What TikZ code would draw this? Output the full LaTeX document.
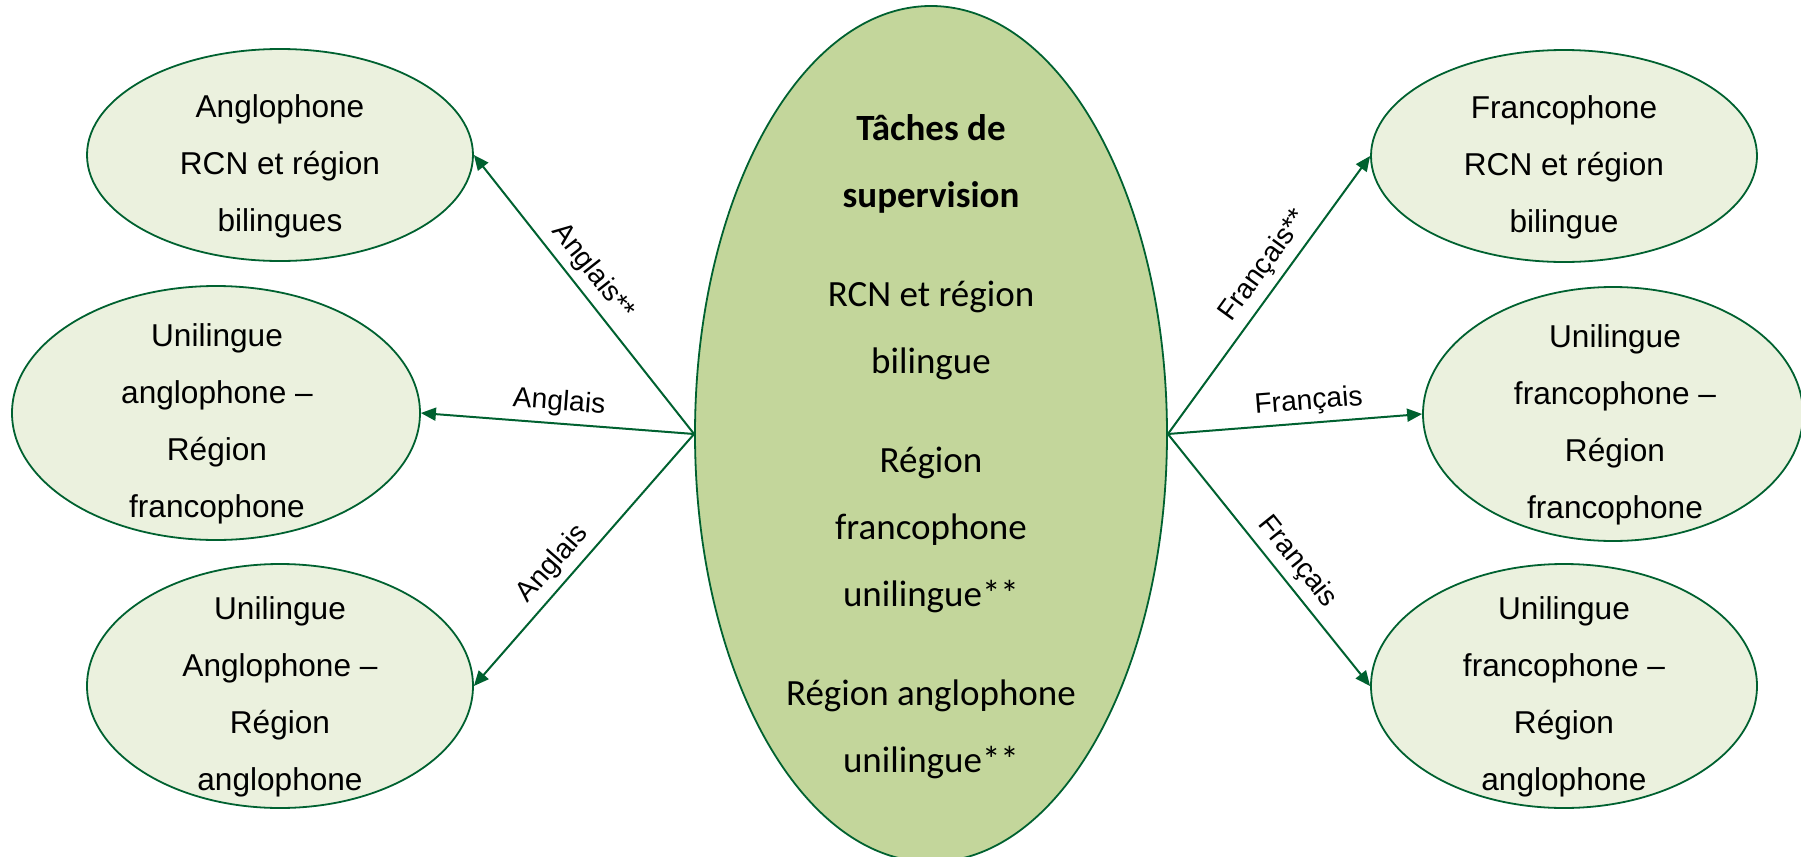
\documentclass[tikz,border=0pt]{standalone}
\usepackage{fontspec}
\setmainfont{Liberation Sans}
\newfontfamily\calibri{Carlito}
\usepackage{xcolor}
\usepackage{tikz}
\usetikzlibrary{arrows.meta,shapes.geometric}

\definecolor{dkgreen}{RGB}{0,97,48}
\definecolor{palegreen}{RGB}{235,241,222}
\definecolor{olivegreen}{RGB}{195,214,155}

\begin{document}
\begin{tikzpicture}[x=0.5pt,y=-0.5pt,semithick,
  >={Triangle[length=7.5pt,width=6.5pt]},
  every edge/.style={draw=dkgreen,line width=1pt}]
\tikzstyle{region}=[ellipse,draw=dkgreen,line width=0.9pt,fill=palegreen,inner sep=0pt]
\tikzstyle{txt}=[align=center,font=\fontsize{15.8}{28.5}\selectfont]
\tikzstyle{lang}=[above,sloped,font=\fontsize{14.1}{17}\selectfont]

\useasboundingbox (0,0) rectangle (1801,857);

% centre
\node[region,fill=olivegreen,minimum width=236pt,minimum height=428pt] (sup) at (931,434) {};
\node[txt,font=\calibri\fontsize{18.5}{33.5}\selectfont] (supt) at (931,447)
  {\textbf{Tâches de}\\\textbf{supervision}\\[16pt]RCN et région\\bilingue\\[16pt]Région\\francophone\\unilingue**\\[16pt]Région anglophone\\unilingue**};

% gauche
\node[region,minimum width=193pt,minimum height=106pt] (ang1) at (280,155) {};
\node[region,minimum width=204pt,minimum height=127pt] (ang2) at (216,413) {};
\node[region,minimum width=193pt,minimum height=122pt] (ang3) at (280,686) {};
\node[txt] (ang1t) at (280,166) {Anglophone\\RCN et région\\bilingues};
\node[txt] (ang2t) at (217,424) {Unilingue\\anglophone –\\Région\\francophone};
\node[txt] (ang3t) at (280,697) {Unilingue\\Anglophone –\\Région\\anglophone};

% droite
\node[region,minimum width=193pt,minimum height=106pt] (fra1) at (1564,156) {};
\node[region,minimum width=190pt,minimum height=127pt] (fra2) at (1613,414) {};
\node[region,minimum width=193pt,minimum height=122pt] (fra3) at (1564,686) {};
\node[txt] (fra1t) at (1564,167) {Francophone\\RCN et région\\bilingue};
\node[txt] (fra2t) at (1615,425) {Unilingue\\francophone –\\Région\\francophone};
\node[txt] (fra3t) at (1564,697) {Unilingue\\francophone –\\Région\\anglophone};

\path[->] (sup.west) edge node[lang,pos=.535] {Anglais**} (ang1.east)
                     edge node[lang,pos=.5] {Anglais} (ang2.east)
                     edge node[lang,pos=.57] {Anglais} (ang3.east)
          (sup.east) edge node[lang,pos=.56] {Français**} (fra1.west)
                     edge node[lang,pos=.56] {Français} (fra2.west)
                     edge node[lang,pos=.56] {Français} (fra3.west);

\end{tikzpicture}
\end{document}
